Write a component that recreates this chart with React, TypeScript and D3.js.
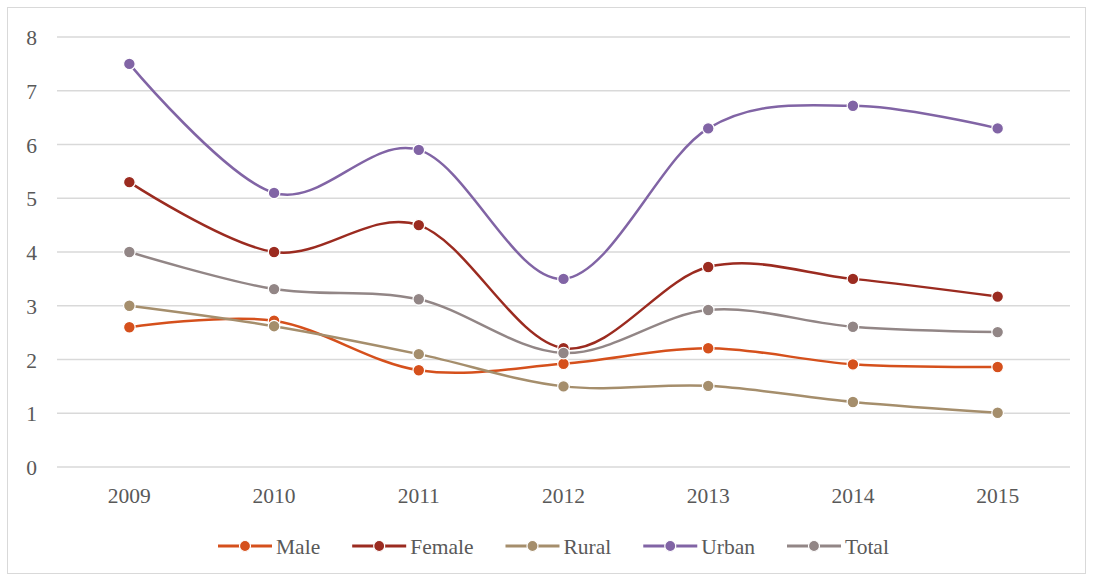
import * as d3 from "d3";
import { useEffect, useRef } from "react";

const years = ["2009", "2010", "2011", "2012", "2013", "2014", "2015"];
const seriesNames = ["Male", "Female", "Rural", "Urban", "Total"];
const male = [2.6, 2.72, 1.8, 1.92, 2.21, 1.91, 1.86];
const female = [5.3, 4.0, 4.5, 2.21, 3.72, 3.5, 3.17];
const rural = [3.0, 2.62, 2.1, 1.5, 1.51, 1.21, 1.01];
const urban = [7.5, 5.1, 5.9, 3.5, 6.3, 6.72, 6.3];
const total = [4.0, 3.31, 3.12, 2.12, 2.92, 2.61, 2.51];
const yTicks = [0, 1, 2, 3, 4, 5, 6, 7, 8];
const colors = ["#D5501C", "#9B2B20", "#A58E6C", "#8164A5", "#928686"];

const W = 1093;
const H = 576;

export default function App() {
  const ref = useRef<SVGSVGElement | null>(null);

  useEffect(() => {
    const svg = d3.select(ref.current);
    svg.selectAll("*").remove();
    // no serif face in the sandbox, so this falls back to a sans
    const font = "'Liberation Serif', 'Times New Roman', serif";
    const fs = 21.5;

    svg
      .append("rect")
      .attr("x", 7.5)
      .attr("y", 7.5)
      .attr("width", 1078)
      .attr("height", 566)
      .attr("fill", "#fff")
      .attr("stroke", "#d9d9d9");

    const x = d3.scaleBand().domain(years).range([57, 1070]);
    const y = d3.scaleLinear().domain([0, 8]).range([467, 37]);

    // grid
    svg
      .append("g")
      .selectAll("line")
      .data(yTicks)
      .enter()
      .append("line")
      .attr("x1", 57)
      .attr("x2", 1070)
      .attr("y1", (d) => y(d))
      .attr("y2", (d) => y(d))
      .attr("stroke", "#d9d9d9")
      .attr("stroke-width", 1.3);

    svg
      .append("g")
      .selectAll("text")
      .data(yTicks)
      .enter()
      .append("text")
      .attr("x", 37)
      .attr("y", (d) => y(d) + 8)
      .attr("text-anchor", "end")
      .style("font-family", font)
      .attr("font-size", fs)
      .attr("fill", "#595959")
      .text((d) => d);

    svg
      .append("g")
      .selectAll("text")
      .data(years)
      .enter()
      .append("text")
      .attr("x", (d) => x(d)! + x.bandwidth() / 2)
      .attr("y", 503)
      .attr("text-anchor", "middle")
      .style("font-family", font)
      .attr("font-size", fs)
      .attr("fill", "#595959")
      .text((d) => d);

    const all = [male, female, rural, urban, total];
    const line = d3
      .line<number>()
      .x((_, i) => x(years[i])! + x.bandwidth() / 2)
      .y((d) => y(d))
      .curve(d3.curveCatmullRom.alpha(0));

    all.forEach((vals, s) => {
      const g = svg.append("g");
      g.append("path")
        .attr("d", line(vals)!)
        .attr("fill", "none")
        .attr("stroke", colors[s])
        .attr("stroke-width", 2.5);
      g.selectAll("circle")
        .data(vals)
        .enter()
        .append("circle")
        .attr("cx", (_, i) => x(years[i])! + x.bandwidth() / 2)
        .attr("cy", (d) => y(d))
        .attr("r", 5.8)
        .attr("fill", colors[s])
        .attr("stroke", "#fff")
        .attr("stroke-width", 1.2);
    });

    // legend
    let lx = 218;
    const ly = 546;
    seriesNames.forEach((name, s) => {
      const g = svg.append("g");
      g.append("line")
        .attr("x1", lx)
        .attr("x2", lx + 54)
        .attr("y1", ly)
        .attr("y2", ly)
        .attr("stroke", colors[s])
        .attr("stroke-width", 3);
      g.append("circle")
        .attr("cx", lx + 27)
        .attr("cy", ly)
        .attr("r", 5.5)
        .attr("fill", colors[s])
        .attr("stroke", "#fff")
        .attr("stroke-width", 1.2);
      const t = g
        .append("text")
        .attr("x", lx + 58)
        .attr("y", ly + 7.5)
        .style("font-family", font)
        .attr("font-size", fs)
        .attr("fill", "#595959")
        .text(name);
      const tw = (t.node() as SVGTextElement).getComputedTextLength();
      lx = lx + 58 + tw + 32;
    });
  }, []);

  return (
    <svg
      ref={ref}
      width={W}
      height={H}
      style={{ position: "absolute", left: 0, top: 0 }}
    ></svg>
  );
}
